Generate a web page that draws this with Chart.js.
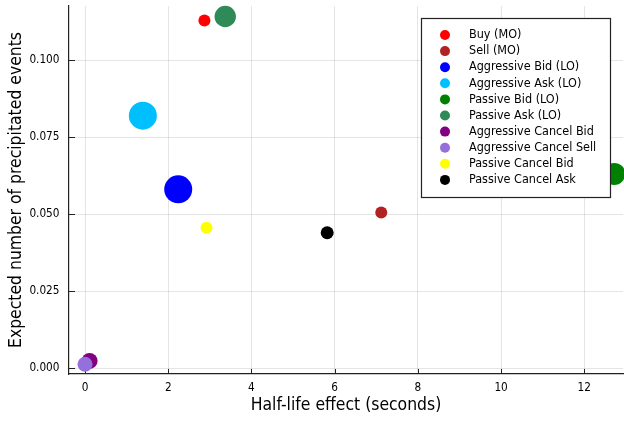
<!DOCTYPE html>
<html>
<head>
<meta charset="utf-8">
<script src="https://cdn.jsdelivr.net/npm/chart.js@4.4.1/dist/chart.umd.min.js"></script>
<style>
  html, body { margin: 0; padding: 0; background: #fff; }
  #wrap { width: 624px; height: 421px; }
</style>
</head>
<body>
<div id="wrap"><canvas id="scatter"></canvas></div>
<script>
// event types, one point each
const eventTypes = [
  "Buy (MO)", "Sell (MO)", "Aggressive Bid (LO)", "Aggressive Ask (LO)",
  "Passive Bid (LO)", "Passive Ask (LO)", "Aggressive Cancel Bid",
  "Aggressive Cancel Sell", "Passive Cancel Bid", "Passive Cancel Ask"
];
const halfLife = [2.87, 7.12, 2.24, 1.39, 12.72, 3.37, 0.11, 0.0, 2.92, 5.82];
const expectedEvents = [0.1129, 0.0506, 0.0581, 0.0820, 0.0631, 0.1142, 0.0024, 0.0013, 0.0456, 0.0440];
const xTicks = [0, 2, 4, 6, 8, 10, 12];
const yTicks = [0, 0.025, 0.05, 0.075, 0.1];

// styling
const colors = ["#ff0000", "#b22222", "#0000ff", "#00bfff", "#008000",
                "#2e8b57", "#800080", "#9370db", "#ffff00", "#000000"];
const radii = [6, 6, 14, 14, 11, 10.7, 8, 7.5, 6, 6.5];
const FONT = "'DejaVu Sans Condensed', 'DejaVu Sans', sans-serif";

// pin the axis boxes so the plot area lands where the original has it
function pinScale(s, size) {
  if (s.isHorizontal()) s.height = size; else s.width = size;
  s.paddingLeft = s.paddingRight = s.paddingTop = s.paddingBottom = 0;
}

/* ---- inward tick marks like the original ---- */
const innerTicks = {
  id: "innerTicks",
  beforeDatasetsDraw(chart) {
    const { ctx, scales: { x, y }, chartArea } = chart;
    ctx.save();
    ctx.strokeStyle = "#222";
    ctx.lineWidth = 1;
    ctx.beginPath();
    x.ticks.forEach(t => {
      const px = Math.round(x.getPixelForValue(t.value)) + 0.5;
      ctx.moveTo(px, chartArea.bottom);
      ctx.lineTo(px, chartArea.bottom - 5);
    });
    y.ticks.forEach(t => {
      const py = Math.round(y.getPixelForValue(t.value)) + 0.5;
      ctx.moveTo(chartArea.left, py);
      ctx.lineTo(chartArea.left + 6, py);
    });
    ctx.stroke();
    ctx.restore();
  }
};

/* ---- legend box inside the plot, top right ---- */
const boxLegend = {
  id: "boxLegend",
  afterDraw(chart) {
    const { ctx, chartArea } = chart;
    const right = chartArea.right - 13, top = chartArea.top + 12;
    const w = 189, h = 179, rowH = 16.1;
    const left = right - w;
    ctx.save();
    ctx.fillStyle = "#fff";
    ctx.fillRect(left, top, w, h);
    ctx.strokeStyle = "#222";
    ctx.lineWidth = 1.2;
    ctx.strokeRect(left + 0.5, top + 0.5, w, h);
    ctx.font = "12.5px " + FONT;
    ctx.textBaseline = "middle";
    chart.data.datasets.forEach((ds, i) => {
      const cy = top + 17 + i * rowH;
      ctx.fillStyle = ds.backgroundColor;
      ctx.beginPath();
      ctx.arc(left + 24, cy, 5, 0, Math.PI * 2);
      ctx.fill();
      ctx.fillStyle = "#000";
      ctx.fillText(ds.label, left + 48, cy);
    });
    ctx.restore();
  }
};

new Chart(document.getElementById("scatter"), {
  type: "scatter",
  data: {
    datasets: eventTypes.map((name, i) => ({
      label: name,
      data: [{ x: halfLife[i], y: expectedEvents[i] }],
      backgroundColor: colors[i],
      borderWidth: 0,
      pointRadius: radii[i],
      pointHoverRadius: radii[i],
      order: -i,
      clip: false
    }))
  },
  plugins: [innerTicks, boxLegend],
  options: {
    responsive: true,
    maintainAspectRatio: false,
    animation: false,
    layout: { autoPadding: false, padding: { top: 6, right: 1, left: 0, bottom: 0 } },
    plugins: { legend: { display: false }, tooltip: { enabled: false } },
    scales: {
      x: {
        type: "linear",
        min: -0.385,
        max: 12.93,
        afterBuildTicks: s => { s.ticks = xTicks.map(v => ({ value: v })); },
        afterFit: s => pinScale(s, 47),
        grid: { color: "rgba(0,0,0,0.1)", drawTicks: false },
        border: { color: "#222", width: 1.2 },
        ticks: { color: "#000", padding: 7, font: { family: FONT, size: 11.7 } },
        title: {
          display: true,
          text: "Half-life effect (seconds)",
          color: "#000",
          font: { family: FONT, size: 17.4 },
          padding: { bottom: 5 }
        }
      },
      y: {
        type: "linear",
        min: -0.00185,
        max: 0.1176,
        afterBuildTicks: s => { s.ticks = yTicks.map(v => ({ value: v })); },
        afterFit: s => pinScale(s, 69),
        grid: { color: "rgba(0,0,0,0.1)", drawTicks: false },
        border: { color: "#222", width: 1.2 },
        ticks: {
          color: "#000",
          padding: 9.5,
          font: { family: FONT, size: 11.7 },
          callback: v => v.toFixed(3)
        },
        title: {
          display: true,
          text: "Expected number of precipitated events",
          color: "#000",
          font: { family: FONT, size: 17.4 },
          padding: { top: 6 }
        }
      }
    }
  }
});
</script>
</body>
</html>
